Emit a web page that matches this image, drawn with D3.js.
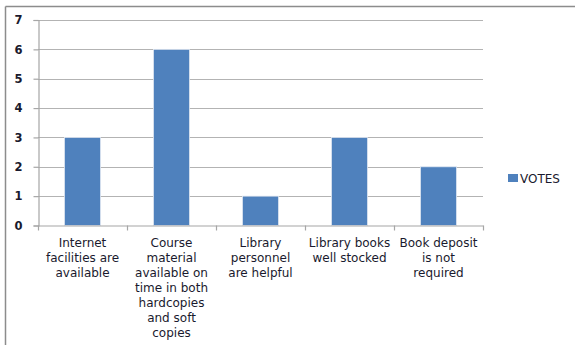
<!DOCTYPE html>
<html>
<head>
<meta charset="utf-8">
<script src="https://cdn.jsdelivr.net/npm/d3@7/dist/d3.min.js"></script>
<style>
  html, body { margin: 0; padding: 0; background: #fff; }
  svg { display: block; }
  text { font-family: "DejaVu Sans", Verdana, sans-serif; fill: #1a1a2e; }
</style>
</head>
<body>
<script>
// Survey results: reasons given, number of votes each
const categories = [
  ["Internet", "facilities are", "available"],
  ["Course", "material", "available on", "time in both", "hardcopies", "and soft", "copies"],
  ["Library", "personnel", "are helpful"],
  ["Library books", "well stocked"],
  ["Book deposit", "is not", "required"]
];
const votes = [3, 6, 1, 3, 2];
const yTicks = [0, 1, 2, 3, 4, 5, 6, 7];
const seriesName = "VOTES";

const W = 575, H = 345;
const margin = { left: 38, right: 92, top: 20, bottom: 120 };
const plotW = W - margin.left - margin.right; // 445
const zeroY = 225.5;

const svg = d3.select("body").append("svg").attr("width", W).attr("height", H);

// outer chart frame (top and left edges)
svg.append("line").attr("x1", 5.5).attr("x2", W).attr("y1", 6.5).attr("y2", 6.5)
  .attr("stroke", "#8c8c8c").attr("stroke-width", 1.5);
svg.append("line").attr("x1", 5.5).attr("x2", 5.5).attr("y1", 6.5).attr("y2", H)
  .attr("stroke", "#8c8c8c").attr("stroke-width", 1.5);

const x = d3.scaleBand()
  .domain(d3.range(categories.length))
  .range([margin.left, margin.left + plotW])
  .paddingInner(0).paddingOuter(0);

const y = d3.scaleLinear().domain([0, 7]).range([zeroY, margin.top]);

// horizontal gridlines
svg.append("g").selectAll("line").data(yTicks.filter(d => d > 0)).join("line")
  .attr("x1", margin.left).attr("x2", margin.left + plotW)
  .attr("y1", d => Math.round(y(d)) + 0.5).attr("y2", d => Math.round(y(d)) + 0.5)
  .attr("stroke", "#b3b3b3").attr("stroke-width", 1.2);

// y axis
const yAxis = d3.axisLeft(y).tickValues(yTicks).tickSize(5).tickPadding(11).tickFormat(d3.format("d"));
const gy = svg.append("g").attr("transform", `translate(${margin.left + 0.5},0)`).call(yAxis);
gy.select(".domain").attr("stroke", "#a6a6a6").attr("stroke-width", 1.2);
gy.selectAll(".tick line").attr("stroke", "#a6a6a6").attr("stroke-width", 1.2);
gy.selectAll(".tick text").attr("font-size", 11.5).attr("font-weight", "bold")
  .attr("fill", "#1a1a2e").attr("font-family", "DejaVu Sans, sans-serif");

// bars
const barW = x.bandwidth() * 0.405;
svg.append("g").selectAll("rect").data(votes).join("rect")
  .attr("x", (d, i) => x(i) + (x.bandwidth() - barW) / 2)
  .attr("width", barW)
  .attr("y", d => y(d))
  .attr("height", d => zeroY - y(d))
  .attr("fill", "#4f81bd")
  .attr("stroke", "#dfe7f2").attr("stroke-width", 0.8);

// x axis
const xAxis = d3.axisBottom(x).tickSize(0).tickFormat("");
const gx = svg.append("g").attr("transform", `translate(0,${zeroY})`).call(xAxis);
gx.select(".domain").attr("stroke", "#a6a6a6").attr("stroke-width", 1.2);
gx.selectAll(".tick").remove();
// category boundary ticks
const bounds = d3.range(categories.length + 1).map(i => margin.left + i * x.bandwidth());
svg.append("g").selectAll("line").data(bounds).join("line")
  .attr("x1", d => Math.round(d) + 0.5).attr("x2", d => Math.round(d) + 0.5)
  .attr("y1", zeroY).attr("y2", zeroY + 5)
  .attr("stroke", "#a6a6a6").attr("stroke-width", 1.2);

// category labels
const labels = svg.append("g").selectAll("text").data(categories).join("text")
  .attr("text-anchor", "middle")
  .attr("font-size", 12)
  .attr("transform", (d, i) => `translate(${x(i) + x.bandwidth() / 2},${246.5})`);
labels.selectAll("tspan").data(d => d).join("tspan")
  .attr("x", 0).attr("dy", (d, i) => i === 0 ? 0 : 15).text(d => d);

// legend
const lg = svg.append("g").attr("transform", "translate(508,174)");
lg.append("rect").attr("width", 10).attr("height", 8).attr("fill", "#4f81bd");
lg.append("text").attr("x", 12).attr("y", 8.5).attr("font-size", 12).text(seriesName);
</script>
</body>
</html>
